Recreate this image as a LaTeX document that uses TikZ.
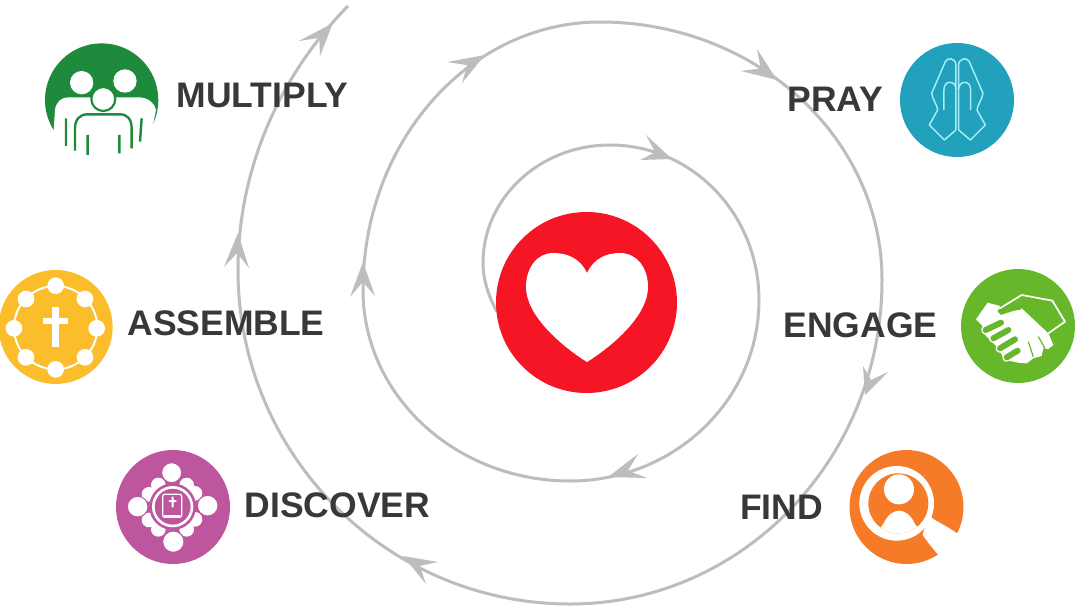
\documentclass[tikz,border=0pt]{standalone}
\usepackage{fontspec}
\setmainfont{Liberation Sans}
\usetikzlibrary{calc}
\definecolor{spiralgrey}{HTML}{BDBDBD}
\definecolor{labelgrey}{HTML}{383838}
\definecolor{cGreen}{HTML}{1E8A3B}
\definecolor{cBlue}{HTML}{21A1BC}
\definecolor{cYellow}{HTML}{FBBD2B}
\definecolor{cMagenta}{HTML}{BD559F}
\definecolor{cLime}{HTML}{67B72B}
\definecolor{cOrange}{HTML}{F57B28}
\definecolor{cRed}{HTML}{F51524}
\definecolor{cHands}{HTML}{A5ECF5}
\tikzset{
  spiral/.style={draw=spiralgrey,line width=3pt,line join=round},
  tipfill/.style={fill=spiralgrey},
  lbl/.style={font=\bfseries\fontsize{35.5}{36}\selectfont,text=labelgrey,inner sep=0pt,anchor=center},
  zoomed/.style={shift={#1},x=0.3333pt,y=-0.3333pt},
}
\newcommand\arrowtip[3]{\fill[tipfill] (#1) -- (#2) -- ($(#1)!0.58!($(#2)!.5!(#3)$)$) -- (#3) -- cycle;}
\begin{document}
\begin{tikzpicture}[x=1pt,y=-1pt]
\useasboundingbox (0,0) rectangle (1077,606);
\fill[white] (0,0) rectangle (1077,606);
% spiral
\draw[spiral] (497,312) .. controls (488,295) and (483,279) .. (483,263)
 .. controls (483,197.8) and (539.9,145) .. (610,145)
 .. controls (692.3,145) and (759,214.4) .. (759,300)
 .. controls (759,400) and (674.4,481) .. (570,481)
 .. controls (455.7,481) and (363,395.5) .. (363,290)
 .. controls (363,142) and (469.1,22) .. (600,22)
 .. controls (755.7,22) and (882,137.5) .. (882,280)
 .. controls (882,458.9) and (742.3,604) .. (570,604)
 .. controls (386.6,604) and (238,454.5) .. (238,270)
 .. controls (238,172.2) and (277.3,77.7) .. (348,6);
\arrowtip{672,159}{646,135}{640,160}
\arrowtip{608,477}{638,454}{647,478}
\arrowtip{363,262}{350,297}{375,296}
\arrowtip{485,55}{447,62}{462,83}
\arrowtip{777,80}{757,49}{741,71}
\arrowtip{865,395}{863,366}{888,372}
\arrowtip{403,556}{438,562}{426,584}
\arrowtip{238,233}{224,267}{249,268}
\arrowtip{333,23}{299,41}{320,56}
% centre
\fill[cRed] (586.5,302.5) circle (90.5);
\fill[white] (587,273) .. controls (580,258) and (567,253) .. (553,253)
  .. controls (537,253) and (526,268) .. (526,287) .. controls (526,315) and (560,345) .. (587,362)
  .. controls (614,345) and (648,315) .. (648,287) .. controls (648,268) and (637,253) .. (620,253)
  .. controls (607,253) and (594,258) .. (587,273) -- cycle;
% labels
\node[lbl] (multiply) at (262.5,95) {MULTIPLY};
\node[lbl] (pray) at (835,99) {PRAY};
\node[lbl] (engage) at (860.5,325) {ENGAGE};
\node[lbl] (find) at (781.5,507) {FIND};
\node[lbl] (discover) at (337.5,505) {DISCOVER};
\node[lbl] (assemble) at (226,323) {ASSEMBLE};
% multiply icon
\begin{scope}[zoomed={(0,20)}]
\fill[cGreen] (305,240) circle (170);
\fill[white] (160,345) -- (165,270) .. controls (168,245) and (185,232) .. (205,232) -- (415,232)
  .. controls (440,232) and (462,245) .. (468,270) -- (458,320) -- (458,450) -- (160,450) -- cycle;
\fill[white] (245,188) circle (35) (375,183) circle (35);
\filldraw[fill=white,draw=cGreen,line width=2.2pt] (310,237) circle (36);
\draw[cGreen,line width=2.4pt] (225,392) -- (225,325) .. controls (225,298) and (240,283) .. (262,283) -- (360,283)
  .. controls (382,283) and (395,298) .. (395,325) -- (395,385);
\draw[cGreen,line width=2.4pt] (198,295) -- (198,378) (425,295) -- (420,365) (263,345) -- (263,405) (358,345) -- (358,400);
\end{scope}
% pray icon
\fill[cBlue] (957,100) circle (57);
\begin{scope}[zoomed={(840,30)}]
\draw[cHands,line width=1.5pt,line join=round]
  (348,300) -- (348,105) .. controls (348,85) and (322,80) .. (316,95) -- (275,190) .. controls (278,210) and (292,225) .. (293,240)
  -- (268,285) -- (313,330) -- (348,300);
\draw[cHands,line width=1.5pt] (312,240) -- (312,178) .. controls (312,150) and (348,150) .. (348,178);
\draw[cHands,line width=1.5pt,line join=round]
  (356,300) -- (356,105) .. controls (356,85) and (382,80) .. (388,95) -- (429,190) .. controls (426,210) and (412,225) .. (411,240)
  -- (436,285) -- (391,330) -- (356,300);
\draw[cHands,line width=1.5pt] (392,240) -- (392,178) .. controls (392,150) and (356,150) .. (356,178);
\end{scope}
% assemble icon
\begin{scope}[zoomed={(0,260)}]
\fill[cYellow] (167,201) circle (171);
\draw[white,line width=2pt] (167,203) circle (125);
\foreach \bx/\by in {167/77,255/117,290/205,255/292,167/328,78/292,42/205,78/117}
  \fill[white] (\bx,\by) circle (25);
\fill[white] (157,140) rectangle (177,262);
\fill[white] (128,174) rectangle (205,192);
\end{scope}
% discover icon
\fill[cMagenta] (173,507) circle (57);
\begin{scope}[zoomed={(125,460)}]
\foreach \bx/\by in {100/75,185/75,210/100,210/178,185/208,100/208,72/180,72/103}
  \fill[white] (\bx,\by) circle (22);
\fill[cMagenta] (143,140) circle (70);
\draw[white,line width=2.6pt] (143,140) circle (58);
\filldraw[fill=cMagenta,draw=white,line width=1.2pt,rounded corners=2pt] (113,103) rectangle (170,172);
\fill[white] (140,110) rectangle (146,142) (132,120) rectangle (154,126);
\fill[white] (118,166) rectangle (165,175);
\filldraw[fill=white,draw=cMagenta,line width=1pt] (140,38) circle (30) (145,245) circle (32) (38,140) circle (31) (248,137) circle (31);
\end{scope}
% engage icon
\fill[cLime] (1018,326) circle (57);
\begin{scope}[zoomed={(965,280)}]
\draw[white,line width=1.7pt,line join=round] (100,88) -- (170,45) -- (262,62) -- (300,125) -- (250,160);
\fill[white] (33,118) -- (68,68) -- (105,78) -- (97,95) -- (108,105) -- (170,85) -- (250,160) -- (265,195)
  -- (250,207) -- (235,205) -- (230,228) -- (205,235) -- (185,250) -- (160,248) -- (120,240) -- (95,200) -- (60,165) -- (50,135) -- cycle;
\draw[white,line width=9pt,line cap=round] (62,150) -- (108,128) (85,175) -- (130,150) (105,205) -- (150,178) (125,232) -- (158,212);
\draw[cLime,line width=6pt,line cap=round] (62,150) -- (108,128) (85,175) -- (130,150) (105,205) -- (150,178) (125,232) -- (158,212);
\draw[cLime,line width=3pt,line cap=round] (103,92) -- (165,85);
\draw[cLime,line width=1.2pt] (190,185) -- (205,230) (220,170) -- (240,205);
\end{scope}
% find icon
\fill[cOrange] (906.5,507) circle (57);
\begin{scope}[zoomed={(850,450)}]
\fill[white] (140,160) circle (112);
\fill[cOrange] (145,160) circle (90);
\begin{scope}
\clip (145,160) circle (90);
\fill[white] (100,222) .. controls (112,195) and (130,182) .. (147,182) .. controls (165,182) and (183,195) .. (195,222) -- (250,300) -- (40,300) -- cycle;
\end{scope}
\fill[white] (147,118) circle (45);
\fill[white] (235,195) -- (255,210) -- (290,230) -- (322,250) -- (350,300) -- (300,350) -- (265,315) -- (240,285) -- (218,255) -- cycle;
\end{scope}
\end{tikzpicture}
\end{document}
